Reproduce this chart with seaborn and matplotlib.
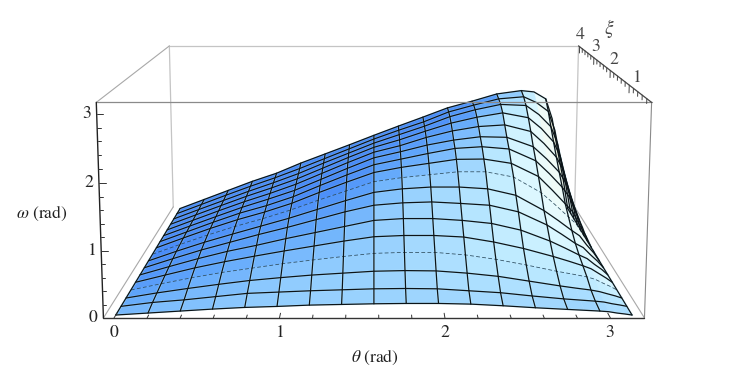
import numpy as np
import matplotlib
matplotlib.use("Agg")
import matplotlib.pyplot as plt
import seaborn as sns
from mpl_toolkits.mplot3d import proj3d

PI = np.pi
theta_values = [j * PI / 16 for j in range(15)] + [2.85, 15 * PI / 16, 3.0, 3.05, 3.10, PI]
mesh_columns = list(range(15)) + [16, 20]
xi_values = [0.08, 0.325, 0.57, 0.815, 1.06, 1.305, 1.55, 1.795, 2.04, 2.285,
             2.53, 2.775, 3.02, 3.265, 3.51, 3.755, 4.0]

omega_row_00 = [0, .03, .06, .09, .115, .13, .15, .16, .17, .175, .175, .165, .14, .11, .085, .072, .06, .05, .03, .015, 0]
omega_row_01 = [0, .06, .10, .15, .20, .22, .24, .255, .27, .275, .27, .24, .21, .16, .115, .097, .08, .066, .04, .02, 0]
omega_row_02 = [0, .08, .15, .215, .275, .32, .36, .39, .42, .43, .425, .39, .34, .265, .19, .155, .125, .10, .066, .033, 0]
omega_row_03 = [0, .10, .195, .28, .35, .42, .48, .535, .585, .60, .60, .56, .49, .40, .30, .255, .21, .17, .11, .055, 0]
omega_row_04 = [0, .118, .235, .335, .425, .51, .59, .67, .74, .76, .76, .735, .655, .55, .42, .345, .27, .22, .145, .07, 0]
omega_row_05 = [0, .137, .27, .39, .49, .60, .70, .80, .90, .93, .93, .90, .85, .74, .56, .445, .33, .27, .175, .09, 0]
omega_row_06 = [0, .153, .30, .43, .56, .68, .81, .94, 1.05, 1.09, 1.105, 1.08, 1.05, .94, .72, .565, .41, .34, .22, .11, 0]
omega_row_07 = [0, .165, .32, .46, .595, .73, .88, 1.03, 1.17, 1.23, 1.26, 1.26, 1.23, 1.12, .86, .69, .52, .43, .275, .14, 0]
omega_row_08 = [0, .17, .335, .485, .62, .77, .94, 1.10, 1.26, 1.33, 1.38, 1.43, 1.43, 1.34, 1.07, .86, .65, .53, .345, .17, 0]
omega_row_09 = [0, .175, .345, .50, .635, .79, .98, 1.16, 1.33, 1.42, 1.49, 1.56, 1.565, 1.49, 1.26, 1.02, .78, .64, .41, .21, 0]
omega_row_10 = [0, .175, .35, .515, .65, .81, 1.01, 1.20, 1.38, 1.48, 1.58, 1.67, 1.70, 1.66, 1.45, 1.22, .98, .80, .52, .26, 0]
omega_row_11 = [0, .176, .35, .52, .67, .83, 1.03, 1.23, 1.42, 1.53, 1.65, 1.74, 1.80, 1.79, 1.62, 1.40, 1.16, .95, .615, .31, 0]
omega_row_12 = [0, .178, .355, .525, .68, .85, 1.05, 1.25, 1.44, 1.56, 1.71, 1.83, 1.91, 1.94, 1.82, 1.60, 1.35, 1.11, .715, .36, 0]
omega_row_13 = [0, .178, .355, .53, .69, .86, 1.06, 1.26, 1.45, 1.59, 1.75, 1.90, 2.01, 2.09, 2.00, 1.80, 1.55, 1.27, .82, .41, 0]
omega_row_14 = [0, .179, .355, .53, .695, .87, 1.07, 1.26, 1.45, 1.61, 1.77, 1.95, 2.08, 2.18, 2.16, 1.99, 1.76, 1.44, .93, .47, 0]
omega_row_15 = [0, .18, .36, .535, .70, .88, 1.07, 1.26, 1.45, 1.62, 1.78, 1.97, 2.10, 2.22, 2.26, 2.15, 1.98, 1.62, 1.05, .525, 0]
omega_row_16 = [0, .18, .36, .54, .70, .90, 1.08, 1.26, 1.445, 1.625, 1.80, 1.98, 2.11, 2.25, 2.315, 2.29, 2.155, 1.77, 1.14, .57, 0]

omega_rows = [omega_row_00, omega_row_01, omega_row_02, omega_row_03, omega_row_04,
              omega_row_05, omega_row_06, omega_row_07, omega_row_08, omega_row_09,
              omega_row_10, omega_row_11, omega_row_12, omega_row_13, omega_row_14,
              omega_row_15, omega_row_16]

theta_ticks = [0, 1, 2, 3]
omega_ticks = [0, 1, 2, 3]
xi_ticks = [1, 2, 3, 4]
theta_lim = (-0.064, 3.206)
xi_lim = (0.0, 4.08)
omega_lim = (0.0, 3.16)

sns.set_theme(style="white")
SERIF = "STIXGeneral"
plt.rcParams["font.family"] = [SERIF, "DejaVu Serif"]
plt.rcParams["mathtext.fontset"] = "stix"

W_PX, H_PX = 748, 366
fig = plt.figure(figsize=(W_PX / 100, H_PX / 100), dpi=100, facecolor="white")
S = 662
ax = fig.add_axes([34 / W_PX, -137 / H_PX, S / W_PX, S / H_PX], projection="3d",
                  computed_zorder=False)
ax.set_box_aspect((1, 0.99, 0.402))
ax.set_proj_type("persp", focal_length=0.4233)
ax.view_init(elev=10.3, azim=-90)
ax.set_xlim(*theta_lim, view_margin=0)
ax.set_ylim(*xi_lim, view_margin=0)
ax.set_zlim(*omega_lim, view_margin=0)
ax.set_axis_off()
ax.patch.set_alpha(0)
ax.apply_aspect()
M = ax.get_proj()


def label3d(x, y, z, s, **kw):
    px, py, _ = proj3d.proj_transform(x, y, z, M)
    ax.text2D(px, py, s, transform=ax.transData, ha="center", va="center",
              family=SERIF, **kw)


T, X = np.meshgrid(theta_values, xi_values)
W = np.array(omega_rows, dtype=float)

# facet colours from the tilt of the surface in box space
cmap = sns.blend_palette(["#4a8cf7", "#62a8fb", "#8fcbfe", "#bdeaff", "#e2faff", "#f3fbf5", "#fbe8c0"],
                         n_colors=256, as_cmap=True)
sx = 1 / (theta_lim[1] - theta_lim[0])
sy = 0.99 / (xi_lim[1] - xi_lim[0])
sz = 0.402 / (omega_lim[1] - omega_lim[0])
dw_dx = np.gradient(W * sz, np.array(theta_values) * sx, axis=1)
dw_dy = np.gradient(W * sz, np.array(xi_values) * sy, axis=0)
norm = np.sqrt(1 + dw_dx ** 2 + dw_dy ** 2)
score = (-dw_dx + 0.35 * dw_dy) / norm
face_score = (score[:-1, :-1] + score[1:, :-1] + score[:-1, 1:] + score[1:, 1:]) / 4
level = np.interp(face_score, [-0.33, -0.15, 0.0, 0.28, 0.62, 0.85, 0.97],
                  [0, 1 / 6, 2 / 6, 3 / 6, 4 / 6, 5 / 6, 1])
face_colors = cmap(level)

t0, t1 = theta_lim
x0, x1 = xi_lim
z0, z1 = omega_lim
BACK, LIGHT, FRONT = "#c4c4c4", "#a8a8a8", "#8a8a8a"


def edge(a, b, color, lw, z):
    ax.plot([a[0], b[0]], [a[1], b[1]], [a[2], b[2]], color=color, lw=lw, zorder=z,
            solid_capstyle="round")


edge((t0, x1, z1), (t1, x1, z1), BACK, 0.9, 1)
edge((t0, x1, z0), (t0, x1, z1), BACK, 0.9, 1)
edge((t1, x1, z0), (t1, x1, z1), BACK, 0.9, 1)
edge((t0, x0, z1), (t0, x1, z1), LIGHT, 0.8, 1)
edge((t0, x0, z0), (t0, x1, z0), LIGHT, 0.8, 1)
edge((t1, x0, z0), (t1, x1, z0), LIGHT, 0.8, 1)

ax.plot_surface(T, X, W, facecolors=face_colors, rstride=1, cstride=1, shade=False,
                linewidth=0.3, antialiased=True, zorder=2)

HALO = "#cdf6ff"
for k, xi in enumerate(xi_values):
    thin = k in (3, 8)
    if not thin:
        ax.plot(T[k], X[k], W[k], color=HALO, lw=1.5, alpha=0.35, zorder=2.5)
    ax.plot(T[k], X[k], W[k], color="#2a4a5c" if thin else "#0c1418",
            lw=0.55 if thin else 0.9, ls=(0, (5, 3)) if thin else "-", zorder=3)
for j in mesh_columns:
    ax.plot(T[:, j], X[:, j], W[:, j], color=HALO, lw=1.6, alpha=0.5, zorder=2.5)
    ax.plot(T[:, j], X[:, j], W[:, j], color="#0c1418", lw=0.9, zorder=3)

edge((t0, x0, z1), (t1, x0, z1), FRONT, 0.9, 4)
edge((t1, x0, z0), (t1, x0, z1), FRONT, 0.8, 4)
edge((t0, x0, z0), (t1, x0, z0), "#333333", 1.0, 4)
edge((t0, x0, z0), (t0, x0, z1), "#222222", 1.0, 4)
edge((t1, x0, z1), (t1, x1, z1), "#444444", 0.9, 4)

# ticks and their labels
for i in range(0, 16):
    v = round(i * 0.2, 1)
    major = v in theta_ticks
    edge((v, x0, z0), (v, x0 + (0.13 if major else 0.08), z0), "#333333", 0.7, 4)
for i in range(0, 16):
    v = round(i * 0.2, 1)
    major = v in omega_ticks
    edge((t0, x0, v), (t0 + (0.04 if major else 0.02), x0, v), "#333333", 0.7, 4)
for i in range(1, 21):
    v = round(i * 0.2, 1)
    major = v in xi_ticks
    edge((t1, v, z1), (t1, v, z1 - (0.12 if major else 0.07)), "#444444", 0.7, 4)

for v in theta_ticks:
    label3d(v, x0, z0 - 0.23, str(v), fontsize=12.8, color="#222222")
for v in omega_ticks:
    label3d(t0 - 0.06, x0, v, str(v), fontsize=12.8, color="#222222")
xi_label_shift = {1: (0.045, 0.11), 2: (0.025, 0.17), 3: (0.015, 0.20), 4: (0.005, 0.22)}
for v in xi_ticks:
    dt, dz = xi_label_shift[v]
    label3d(t1 + dt, v, z1 + dz, str(v), fontsize=12.8, color="#444444")

fig.text(42 / W_PX, 1 - 213 / H_PX, r"$\omega$ (rad)", ha="center", va="center", fontsize=12.5, color="#222222")
fig.text(375 / W_PX, 1 - 357 / H_PX, r"$\theta$ (rad)", ha="center", va="center", fontsize=12.5, color="#222222")
fig.text(609 / W_PX, 1 - 29 / H_PX, r"$\xi$", ha="center", va="center", fontsize=14, color="#444444")

fig.savefig("out.png", dpi=100, facecolor="white")
